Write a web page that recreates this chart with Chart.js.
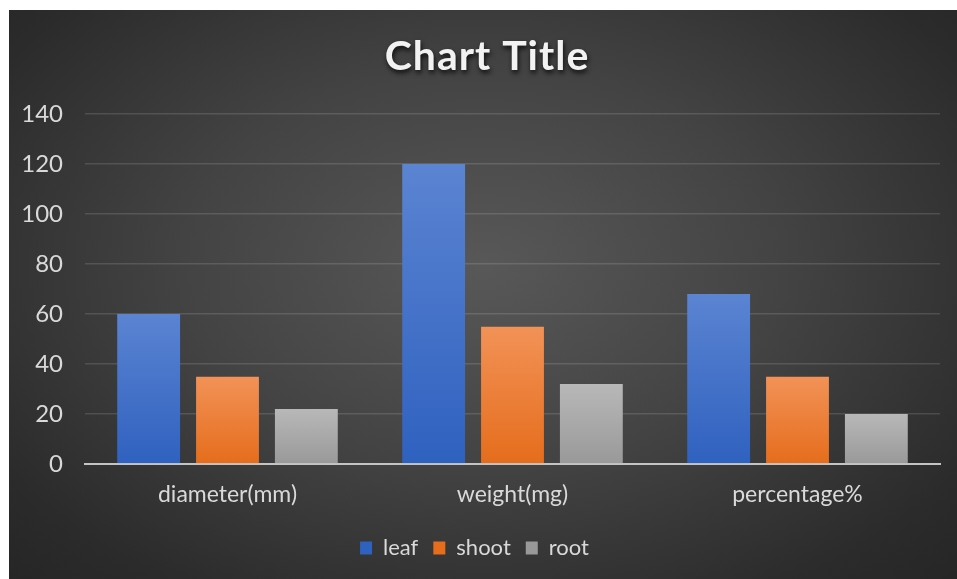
<!DOCTYPE html>
<html>
<head>
<meta charset="utf-8">
<script src="https://cdn.jsdelivr.net/npm/chart.js@4"></script>
<style>
	html, body { margin: 0; padding: 0; background: #fff; }
	#wrap {
		position: absolute; left: 9px; top: 10px; width: 948px; height: 569px;
		background: radial-gradient(ellipse at 50% 45%, #585858 0%, #434343 45%, #2b2b2b 85%, #262626 100%);
	}
	canvas { display: block; }
</style>
</head>
<body>
<div id="wrap"><canvas id="chart" width="948" height="569"></canvas></div>
<script>
var categories = [ 'diameter(mm)', 'weight(mg)', 'percentage%' ];
var seriesNames = [ 'leaf', 'shoot', 'root' ];
var leafValues = [ 60, 120, 68 ];
var shootValues = [ 35, 55, 35 ];
var rootValues = [ 22, 32, 20 ];
var yTicks = [ 0, 20, 40, 60, 80, 100, 120, 140 ];

var FONT = 'Lato, "Open Sans", sans-serif';
var TEXT = '#d9d9d9';

// top / bottom colours of each series' gradient
var shades = [
	[ '#5b84d2', '#2f61bf' ],
	[ '#f29257', '#e56d1c' ],
	[ '#b8b8b8', '#999999' ]
];

function barFill( i ) {
	return function ( ctx ) {
		var chart = ctx.chart;
		if ( ! chart.chartArea || ! ctx.parsed ) { return shades[ i ][ 1 ]; }
		var y = chart.scales.y;
		var top = y.getPixelForValue( ctx.parsed.y );
		var bottom = y.getPixelForValue( 0 );
		if ( ! isFinite( top ) || bottom - top < 1 ) { return shades[ i ][ 1 ]; }
		var g = chart.ctx.createLinearGradient( 0, top, 0, bottom );
		g.addColorStop( 0, shades[ i ][ 0 ] );
		g.addColorStop( 1, shades[ i ][ 1 ] );
		return g;
	};
}

var allValues = [ leafValues, shootValues, rootValues ];
var datasets = seriesNames.map( function ( name, i ) {
	return {
		label: name,
		data: allValues[ i ],
		backgroundColor: barFill( i ),
		borderColor: 'rgba(0,0,0,0)',
		borderWidth: { left: 8, right: 8, top: 0, bottom: 0 },
		borderSkipped: false,
		categoryPercentage: 0.83,
		barPercentage: 1
	};
} );

// title with a soft drop shadow, like the office chart
var titlePlugin = {
	id: 'shadowTitle',
	afterDraw: function ( chart ) {
		var c = chart.ctx;
		c.save();
		c.font = 'bold 41px ' + FONT;
		c.letterSpacing = '1px';
		c.textAlign = 'center';
		c.textBaseline = 'middle';
		c.shadowColor = 'rgba(0,0,0,0.8)';
		c.shadowBlur = 5;
		c.shadowOffsetX = 1;
		c.shadowOffsetY = 3;
		c.fillStyle = '#f2f2f2';
		c.fillText( 'Chart Title', 478, 47 );
		c.restore();
	}
};

new Chart( document.getElementById( 'chart' ), {
	type: 'bar',
	data: { labels: categories, datasets: datasets },
	plugins: [ titlePlugin ],
	options: {
		responsive: false,
		animation: false,
		layout: { padding: { top: 104, right: 17, left: 0, bottom: 10 } },
		scales: {
			x: {
				grid: { display: false, drawTicks: false },
				border: { color: '#c4c4c4', width: 2 },
				ticks: { color: TEXT, font: { family: FONT, size: 23 }, padding: 17 },
				afterFit: function ( s ) { s.height = 58; }
			},
			y: {
				min: 0,
				max: 140,
				afterBuildTicks: function ( s ) {
					s.ticks = yTicks.map( function ( v ) { return { value: v }; } );
				},
				grid: { color: 'rgba(255,255,255,0.13)', lineWidth: 1.5, drawTicks: false },
				border: { display: false },
				ticks: { color: TEXT, font: { family: FONT, size: 24 }, padding: 22 },
				afterFit: function ( s ) { s.width = 76; }
			}
		},
		plugins: {
			title: { display: false },
			tooltip: { enabled: false },
			legend: {
				position: 'bottom',
				labels: {
					color: TEXT,
					font: { family: FONT, size: 22 },
					boxWidth: 12,
					boxHeight: 13,
					padding: 15,
					generateLabels: function ( chart ) {
						return seriesNames.map( function ( name, i ) {
							return {
								text: name,
								fillStyle: shades[ i ][ 1 ],
								strokeStyle: shades[ i ][ 1 ],
								lineWidth: 0,
								fontColor: TEXT,
								datasetIndex: i
							};
						} );
					}
				}
			}
		}
	}
} );
</script>
</body>
</html>
